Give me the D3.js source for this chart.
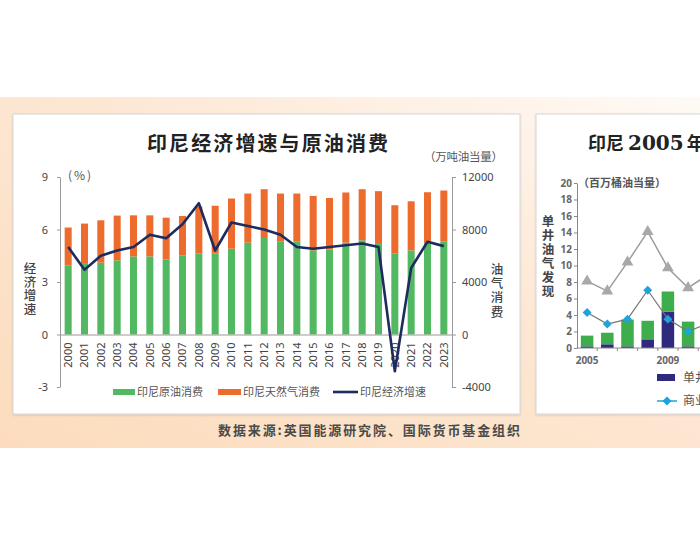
<!DOCTYPE html>
<html><head><meta charset="utf-8">
<script src="https://cdn.jsdelivr.net/npm/d3@7"></script>
<style>body{margin:0;background:#fff;} svg{display:block;}</style>
</head><body>
<svg id="c" width="700" height="550"></svg>
<script>
// ---------- main chart data ----------
const years = ["2000","2001","2002","2003","2004","2005","2006","2007","2008","2009","2010","2011","2012","2013","2014","2015","2016","2017","2018","2019","2020","2021","2022","2023"];
const oilConsumption = [5270,5440,5470,5650,5950,5950,5720,6030,6160,6180,6540,7000,7350,7100,7100,6410,6470,7000,7180,6970,6160,6410,6920,7100];
const gasConsumption = [2880,3010,3230,3410,3130,3130,3180,3000,3590,3630,3820,3740,3720,3640,3640,4150,3930,3820,3890,3950,3690,3740,3920,3870];
const gdpGrowth = [5.0,3.7,4.5,4.8,5.0,5.7,5.5,6.3,7.5,4.8,6.4,6.2,6.0,5.7,5.0,4.9,5.0,5.1,5.2,5.0,-2.1,3.8,5.3,5.05];
const leftTicks = [-3,0,3,6,9];
const rightTicks = [-4000,0,4000,8000,12000];
const seriesNames = ["印尼原油消费","印尼天然气消费","印尼经济增速"];

// ---------- right (partial) chart data ----------
const years2 = [2005,2006,2007,2008,2009,2010,2011];
const barYears2 = [2005,2006,2007,2008,2009,2010];
const singleWell = [0.2,0.45,0.2,1.05,4.4,0.2];
const otherPart = [1.3,1.4,3.25,2.25,2.45,3.0];
const greyLine = [8.1,6.9,10.4,14.1,9.7,7.3,8.9];
const commercial = [4.3,2.9,3.5,7.0,3.5,2.0,3.0];
const ticks2 = [0,2,4,6,8,10,12,14,16,18,20];
const yearLabels2 = [2005,2009];

const CJK = "'Noto Sans CJK SC','Noto Sans',sans-serif";
const NUM = "'Noto Sans','Noto Sans CJK SC',sans-serif";
const C = {green:"#52b862", orange:"#ee6b2e", navy:"#1e2b5e", axis:"#9a9a9a", text:"#444"};
const plain = d => String(d);

const svg = d3.select("#c");
const defs = svg.append("defs");
const grad = defs.append("linearGradient").attr("id","peach")
  .attr("x1","0").attr("y1","1").attr("x2","1").attr("y2","0");
grad.append("stop").attr("offset","0").attr("stop-color","#fcdcbd");
grad.append("stop").attr("offset","0.55").attr("stop-color","#fde7d3");
grad.append("stop").attr("offset","1").attr("stop-color","#fffaf6");
const sh = defs.append("filter").attr("id","sh").attr("x","-5%").attr("y","-5%").attr("width","110%").attr("height","110%");
sh.append("feDropShadow").attr("dx",0).attr("dy",1).attr("stdDeviation",1).attr("flood-color","#000").attr("flood-opacity",0.12);

svg.append("rect").attr("x",0).attr("y",97).attr("width",700).attr("height",351).attr("fill","url(#peach)");

// panels
svg.append("rect").attr("x",13).attr("y",114).attr("width",507).attr("height",300)
  .attr("fill","#fff").attr("stroke","#d6d6d6").attr("filter","url(#sh)");
svg.append("rect").attr("x",536).attr("y",114).attr("width",200).attr("height",300)
  .attr("fill","#fff").attr("stroke","#d6d6d6").attr("filter","url(#sh)");

// ---------- main chart ----------
const x = d3.scaleBand().domain(years).range([60,452]).paddingInner(0.57).paddingOuter(0.285);
const yL = d3.scaleLinear().domain([-3,9]).range([387,177]);
const yR = d3.scaleLinear().domain([-4000,12000]).range([387,177]);

svg.append("text").attr("x",147).attr("y",151).attr("textLength",241).attr("lengthAdjust","spacing")
  .attr("font-family",CJK).attr("font-weight",700).attr("font-size",20).attr("fill","#222")
  .text("印尼经济增速与原油消费");

const g = svg.append("g");
g.selectAll("rect.oil").data(years).join("rect").attr("class","oil")
  .attr("x",d=>x(d)).attr("width",x.bandwidth())
  .attr("y",(d,i)=>yR(oilConsumption[i])).attr("height",(d,i)=>yR(0)-yR(oilConsumption[i]))
  .attr("fill",C.green);
g.selectAll("rect.gas").data(years).join("rect").attr("class","gas")
  .attr("x",d=>x(d)).attr("width",x.bandwidth())
  .attr("y",(d,i)=>yR(oilConsumption[i]+gasConsumption[i])).attr("height",(d,i)=>yR(oilConsumption[i])-yR(oilConsumption[i]+gasConsumption[i]))
  .attr("fill",C.orange);

function styleAxis(sel){
  sel.selectAll("path,line").attr("stroke",C.axis).attr("stroke-width",1);
  sel.selectAll("text").attr("font-family",NUM).attr("font-size",11).attr("fill",C.text);
}
const axL = svg.append("g").attr("transform","translate(60,0)")
  .call(d3.axisLeft(yL).tickValues(leftTicks).tickFormat(plain).tickSize(3).tickSizeOuter(0).tickPadding(9));
styleAxis(axL);
const axR = svg.append("g").attr("transform","translate(452,0)")
  .call(d3.axisRight(yR).tickValues(rightTicks).tickFormat(plain).tickSize(4).tickSizeOuter(0).tickPadding(6));
styleAxis(axR);
const axX = svg.append("g").attr("transform",`translate(0,${yL(0)})`)
  .call(d3.axisBottom(x).tickSize(0).tickSizeOuter(0));
styleAxis(axX);
axX.selectAll("text").attr("transform","rotate(-90)").attr("x",-8).attr("y",0).attr("dy","0.35em")
  .attr("text-anchor","end").attr("font-size",11);

const line = d3.line().x((d,i)=>x(years[i])+x.bandwidth()/2).y(d=>yL(d));
svg.append("path").datum(gdpGrowth).attr("d",line).attr("fill","none")
  .attr("stroke",C.navy).attr("stroke-width",2.6).attr("stroke-linejoin","round");

// unit labels
svg.append("text").attr("x",68).attr("y",180).attr("font-family",CJK).attr("font-size",12)
  .attr("fill","#555").attr("letter-spacing",2).text("(%)");
svg.append("text").attr("x",424).attr("y",161).attr("textLength",79).attr("lengthAdjust","spacing")
  .attr("font-family",CJK).attr("font-size",11.5).attr("fill","#555").text("（万吨油当量）");

function vertical(str,cx,yTop,size,spacing,weight,color){
  svg.append("text").attr("x",cx).attr("y",yTop)
    .style("writing-mode","vertical-rl").style("text-orientation","upright")
    .attr("letter-spacing",spacing)
    .attr("font-family",CJK).attr("font-size",size).attr("font-weight",weight).attr("fill",color).text(str);
}
vertical("经济增速",30,262,12.5,1.1,500,"#444");
vertical("油气消费",497,263,12.5,1.7,500,"#444");

// legend
const lg = svg.append("g").attr("font-family",CJK).attr("font-size",11).attr("fill","#555");
lg.append("rect").attr("x",113).attr("y",389).attr("width",22).attr("height",6).attr("fill",C.green);
lg.append("text").attr("x",137).attr("y",396).text(seriesNames[0]);
lg.append("rect").attr("x",218).attr("y",389).attr("width",23).attr("height",6).attr("fill",C.orange);
lg.append("text").attr("x",243).attr("y",396).text(seriesNames[1]);
lg.append("line").attr("x1",333).attr("x2",358).attr("y1",392).attr("y2",392).attr("stroke",C.navy).attr("stroke-width",2.6);
lg.append("text").attr("x",360).attr("y",396).text(seriesNames[2]);

// source
svg.append("text").attr("x",218).attr("y",435).attr("textLength",302).attr("lengthAdjust","spacing")
  .attr("font-family",CJK).attr("font-weight",700).attr("font-size",13).attr("fill","#4a4a4a")
  .text("数据来源:英国能源研究院、国际货币基金组织");

// ---------- right partial chart ----------
const x2 = d3.scaleBand().domain(years2).range([577,577+20.2*years2.length]).paddingInner(0.38).paddingOuter(0.19);
const y2 = d3.scaleLinear().domain([0,20]).range([348,183]);

const t2 = svg.append("text").attr("x",588).attr("y",150).attr("font-family",CJK).attr("font-weight",700)
  .attr("font-size",18).attr("fill","#222");
t2.append("tspan").text("印尼");
t2.append("tspan").attr("dx",4).attr("font-family","'DejaVu Serif',serif").attr("font-size",20).text("2005");
t2.append("tspan").attr("dx",3).text("年");

const g2 = svg.append("g");
g2.selectAll("rect.sw").data(barYears2).join("rect").attr("class","sw")
  .attr("x",d=>x2(d)).attr("width",x2.bandwidth())
  .attr("y",(d,i)=>y2(singleWell[i])).attr("height",(d,i)=>y2(0)-y2(singleWell[i])).attr("fill","#2f2a7e");
g2.selectAll("rect.op").data(barYears2).join("rect").attr("class","op")
  .attr("x",d=>x2(d)).attr("width",x2.bandwidth())
  .attr("y",(d,i)=>y2(singleWell[i]+otherPart[i])).attr("height",(d,i)=>y2(singleWell[i])-y2(singleWell[i]+otherPart[i])).attr("fill","#3dae4b");

const ax2 = svg.append("g").attr("transform","translate(577,0)")
  .call(d3.axisLeft(y2).tickValues(ticks2).tickFormat(plain).tickSize(3).tickSizeOuter(0).tickPadding(2));
ax2.selectAll("path,line").attr("stroke","#888");
ax2.selectAll("text").attr("font-family",NUM).attr("font-size",10).attr("font-weight",700).attr("fill","#666");

const ax2x = svg.append("g").attr("transform",`translate(0,${y2(0)})`)
  .call(d3.axisBottom(x2).tickValues(yearLabels2).tickFormat(plain).tickSize(0).tickSizeOuter(0).tickPadding(9));
ax2x.select("path").attr("d",`M577,0H700`).attr("stroke","#888");
ax2x.selectAll("text").attr("font-family",NUM).attr("font-size",10).attr("font-weight",700).attr("fill","#666");
svg.append("g").selectAll("line").data(years2.slice(1)).join("line")
  .attr("x1",d=>x2(d)-x2.step()*x2.paddingOuter()).attr("x2",d=>x2(d)-x2.step()*x2.paddingOuter())
  .attr("y1",y2(0)).attr("y2",y2(0)+3).attr("stroke","#888");

const cx2 = d=>x2(d)+x2.bandwidth()/2;
const line2 = d3.line().x((d,i)=>cx2(years2[i])).y(d=>y2(d));
svg.append("path").datum(greyLine).attr("d",line2).attr("fill","none").attr("stroke","#9c9c9c").attr("stroke-width",1.5);
svg.append("g").selectAll("path").data(greyLine).join("path")
  .attr("transform",(d,i)=>`translate(${cx2(years2[i])},${y2(d)})`)
  .attr("d",d3.symbol(d3.symbolTriangle,60)).attr("fill","#a8a8a8");
svg.append("path").datum(commercial).attr("d",line2).attr("fill","none").attr("stroke","#777").attr("stroke-width",1.2);
svg.append("g").selectAll("path").data(commercial).join("path")
  .attr("transform",(d,i)=>`translate(${cx2(years2[i])},${y2(d)}) rotate(45)`)
  .attr("d",d3.symbol(d3.symbolSquare,40)).attr("fill","#1ea4dd");

svg.append("text").attr("x",578).attr("y",187).attr("font-family",CJK).attr("font-size",11)
  .attr("font-weight",700).attr("fill","#555").text("（百万桶油当量）");
vertical("单井油气发现",548,215,12.5,1.5,700,"#444");

const lg2 = svg.append("g").attr("font-family",CJK).attr("font-size",12).attr("fill","#555");
lg2.append("rect").attr("x",657).attr("y",374).attr("width",18).attr("height",7).attr("fill","#2f2a7e");
lg2.append("text").attr("x",683).attr("y",382).text("单井");
lg2.append("line").attr("x1",657).attr("x2",677).attr("y1",401).attr("y2",401).attr("stroke","#1ea4dd").attr("stroke-width",1.5);
lg2.append("path").attr("transform","translate(667,401) rotate(45)").attr("d",d3.symbol(d3.symbolSquare,40)).attr("fill","#1ea4dd");
lg2.append("text").attr("x",683).attr("y",405).text("商业");
</script>
</body></html>
